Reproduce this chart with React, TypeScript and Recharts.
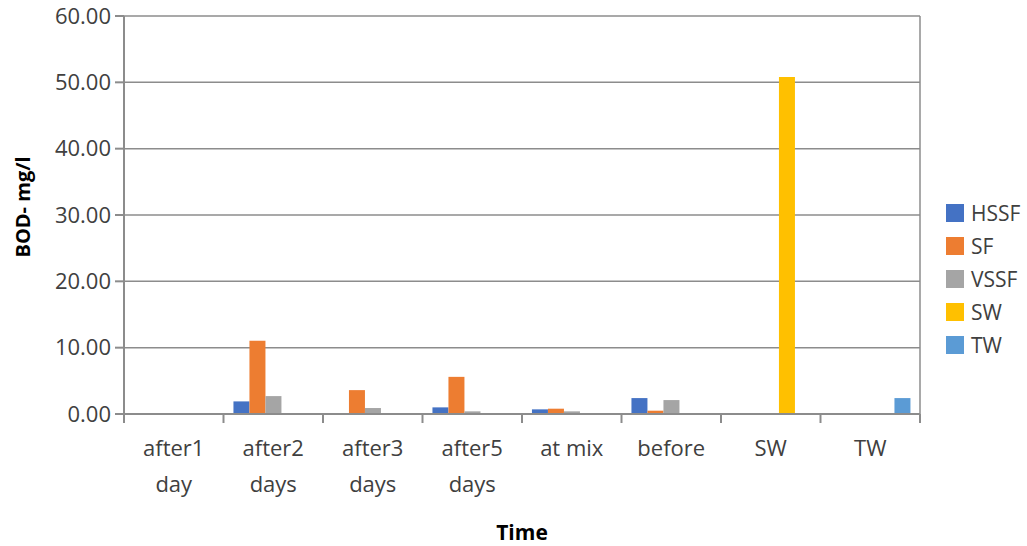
import React from 'react';
import {
  BarChart,
  Bar,
  XAxis,
  YAxis,
  CartesianGrid,
} from 'recharts';

// categories and series (BOD, mg/l)
const CATEGORIES = ['after1\nday', 'after2\ndays', 'after3\ndays', 'after5\ndays', 'at mix', 'before', 'SW', 'TW'];
const HSSF = [null, 1.9, 0.1, 1.0, 0.7, 2.4, null, null];
const SF = [null, 11.05, 3.6, 5.6, 0.8, 0.5, null, null];
const VSSF = [null, 2.7, 0.9, 0.4, 0.4, 2.1, null, null];
const SW = [null, null, null, null, null, null, 50.8, null];
const TW = [null, null, null, null, null, null, null, 2.4];
const Y_TICKS = [0, 10, 20, 30, 40, 50, 60];

const SERIES = [
  { key: 'HSSF', values: HSSF, color: '#4472C4' },
  { key: 'SF', values: SF, color: '#ED7D31' },
  { key: 'VSSF', values: VSSF, color: '#A5A5A5' },
  { key: 'SW', values: SW, color: '#FFC000' },
  { key: 'TW', values: TW, color: '#5B9BD5' },
];

const data = CATEGORIES.map((name, i) => {
  const row: Record<string, any> = { name };
  SERIES.forEach((s) => (row[s.key] = s.values[i]));
  return row;
});

const FONT = '"Open Sans", "Liberation Sans", sans-serif';
const TEXT = '#404040';
const AXIS = '#8c8c8c';

function CategoryTick(props: any) {
  const { x, y, payload, index, visibleTicksCount } = props;
  const n = visibleTicksCount || CATEGORIES.length;
  const band = (920 - 124) / n;
  const lines = String(payload.value).split('\n');
  return (
    <g>
      <line x1={x - band / 2} x2={x - band / 2} y1={y} y2={y + 9} stroke={AXIS} strokeWidth={2} />
      {index === n - 1 && <line x1={x + band / 2} x2={x + band / 2} y1={y} y2={y + 9} stroke={AXIS} strokeWidth={2} />}
      <text x={x} y={y + 42} textAnchor="middle" fontSize={22} fontFamily={FONT} fill={TEXT}>
        {lines.map((l, i) => (
          <tspan key={i} x={x} dy={i === 0 ? 0 : 36}>
            {l}
          </tspan>
        ))}
      </text>
    </g>
  );
}

function YTitle(props: any) {
  const { viewBox } = props;
  const cy = viewBox.y + viewBox.height / 2 - 8;
  return (
    <text
      x={22}
      y={cy}
      transform={`rotate(-90, 22, ${cy})`}
      textAnchor="middle"
      dominantBaseline="central"
      fontSize={20}
      fontWeight="bold"
      fontFamily={FONT}
      fill="#000"
    >
      BOD- mg/l
    </text>
  );
}

function XTitle(props: any) {
  const { viewBox } = props;
  const cx = viewBox.x + viewBox.width / 2;
  return (
    <text x={cx} y={540} textAnchor="middle" fontSize={21} fontWeight="bold" fontFamily={FONT} fill="#000">
      Time
    </text>
  );
}

function LegendBox() {
  return (
    <div style={{ position: 'absolute', left: 946, top: 196, fontFamily: FONT, fontSize: 21, color: TEXT }}>
      {SERIES.map((s) => (
        <div key={s.key} style={{ display: 'flex', alignItems: 'center', height: 33 }}>
          <span style={{ width: 18, height: 18, background: s.color, marginRight: 7, display: 'inline-block' }} />
          <span>{s.key}</span>
        </div>
      ))}
    </div>
  );
}

export default function App() {
  return (
    <div style={{ position: 'absolute', left: 0, top: 0, width: 1027, height: 546, background: '#fff' }}>
      <BarChart
        width={1027}
        height={546}
        data={data}
        margin={{ top: 16, right: 107, left: 0, bottom: 0 }}
        barGap={0}
        barCategoryGap="10%"
      >
        <CartesianGrid
          stroke={AXIS}
          strokeWidth={1.5}
          vertical={true}
          verticalCoordinatesGenerator={({ offset }: any) => [offset.left + offset.width]}
        />
        <XAxis
          dataKey="name"
          interval={0}
          height={132}
          tickSize={0}
          tickMargin={0}
          tick={<CategoryTick />}
          axisLine={{ stroke: AXIS, strokeWidth: 2 }}
          label={<XTitle />}
        />
        <YAxis
          width={124}
          domain={[0, 60]}
          ticks={Y_TICKS}
          interval={0}
          tickFormatter={(v: number) => v.toFixed(2)}
          tickSize={9}
          tickMargin={4}
          tick={{ fontSize: 22, fontFamily: FONT, fill: TEXT }}
          tickLine={{ stroke: AXIS, strokeWidth: 2 }}
          axisLine={{ stroke: AXIS, strokeWidth: 2 }}
          label={<YTitle />}
        />
        {SERIES.map((s) => (
          <Bar key={s.key} dataKey={s.key} fill={s.color} isAnimationActive={false} />
        ))}
      </BarChart>
      <LegendBox />
    </div>
  );
}
